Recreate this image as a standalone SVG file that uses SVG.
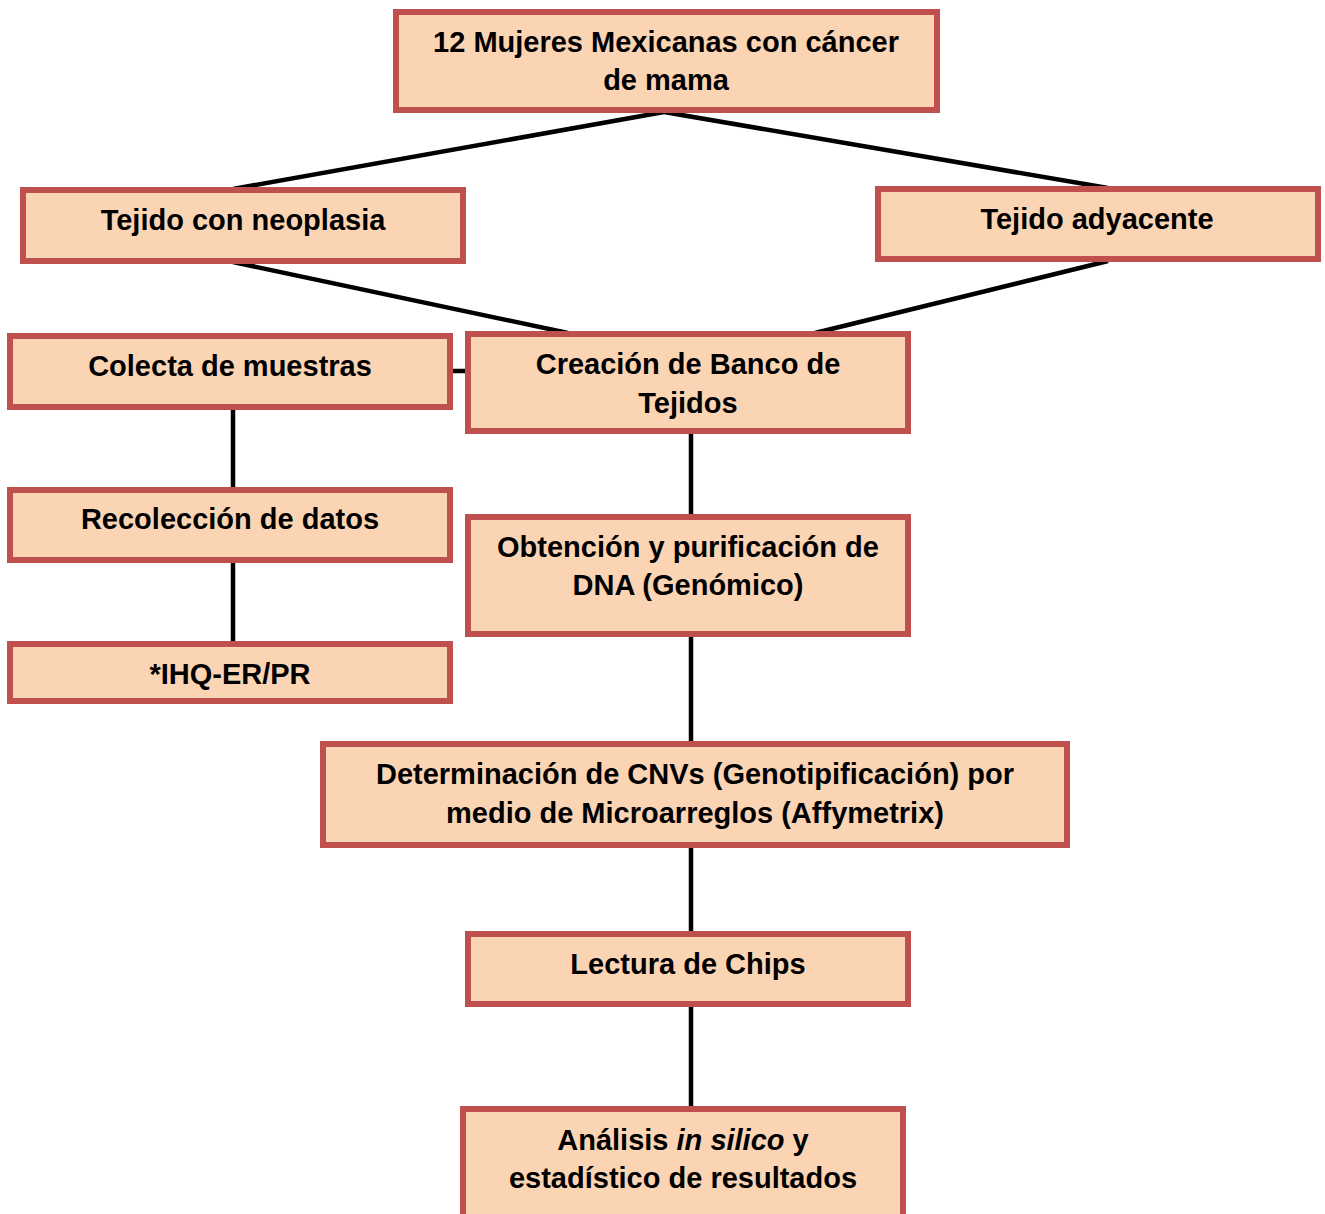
<svg xmlns="http://www.w3.org/2000/svg" width="1325" height="1214" viewBox="0 0 1325 1214">
<style>
.box{fill:#FBD4B4;stroke:#C0504D;stroke-width:6}
.t{font-family:"Liberation Sans",Arial,sans-serif;font-weight:bold;font-size:29px;fill:#000;text-anchor:middle}
.c{stroke:#000;stroke-width:4.5;fill:none}
</style>
<rect width="1325" height="1214" fill="#fff"/>
<g id="connectors">
<line class="c" x1="664" y1="112" x2="233" y2="189"/>
<line class="c" x1="664" y1="112" x2="1108" y2="188"/>
<line class="c" x1="233" y1="262" x2="568" y2="333"/>
<line class="c" x1="1108" y1="261" x2="815" y2="333"/>
<line class="c" x1="452" y1="371" x2="468" y2="371"/>
<line class="c" x1="233" y1="408" x2="233" y2="490"/>
<line class="c" x1="233" y1="561" x2="233" y2="644"/>
<line class="c" x1="691" y1="432" x2="691" y2="517"/>
<line class="c" x1="691" y1="635" x2="691" y2="744"/>
<line class="c" x1="691" y1="846" x2="691" y2="934"/>
<line class="c" x1="691" y1="1005" x2="691" y2="1109"/>
</g>
<g id="n1"><rect class="box" x="396" y="12" width="541" height="98"/>
<text class="t" x="666" y="52">12 Mujeres Mexicanas con cáncer</text>
<text class="t" x="666" y="90">de mama</text></g>
<g id="n2"><rect class="box" x="23" y="190" width="440" height="71"/>
<text class="t" x="243" y="230">Tejido con neoplasia</text></g>
<g id="n3"><rect class="box" x="878" y="189" width="440" height="70"/>
<text class="t" x="1097" y="229">Tejido adyacente</text></g>
<g id="n4"><rect class="box" x="10" y="336" width="440" height="71"/>
<text class="t" x="230" y="376">Colecta de muestras</text></g>
<g id="n5"><rect class="box" x="468" y="334" width="440" height="97"/>
<text class="t" x="688" y="374">Creación de Banco de</text>
<text class="t" x="688" y="413">Tejidos</text></g>
<g id="n6"><rect class="box" x="10" y="490" width="440" height="70"/>
<text class="t" x="230" y="529">Recolección de datos</text></g>
<g id="n7"><rect class="box" x="10" y="644" width="440" height="57"/>
<text class="t" x="230" y="684">*IHQ-ER/PR</text></g>
<g id="n8"><rect class="box" x="468" y="517" width="440" height="117"/>
<text class="t" x="688" y="557">Obtención y purificación de</text>
<text class="t" x="688" y="595">DNA (Genómico)</text></g>
<g id="n9"><rect class="box" x="323" y="744" width="744" height="101"/>
<text class="t" x="695" y="784">Determinación de CNVs (Genotipificación) por</text>
<text class="t" x="695" y="823">medio de Microarreglos (Affymetrix)</text></g>
<g id="n10"><rect class="box" x="468" y="934" width="440" height="70"/>
<text class="t" x="688" y="974">Lectura de Chips</text></g>
<g id="n11"><rect class="box" x="463" y="1109" width="440" height="110"/>
<text class="t" x="683" y="1150">Análisis <tspan font-style="italic">in silico</tspan> y</text>
<text class="t" x="683" y="1188">estadístico de resultados</text></g>
</svg>
